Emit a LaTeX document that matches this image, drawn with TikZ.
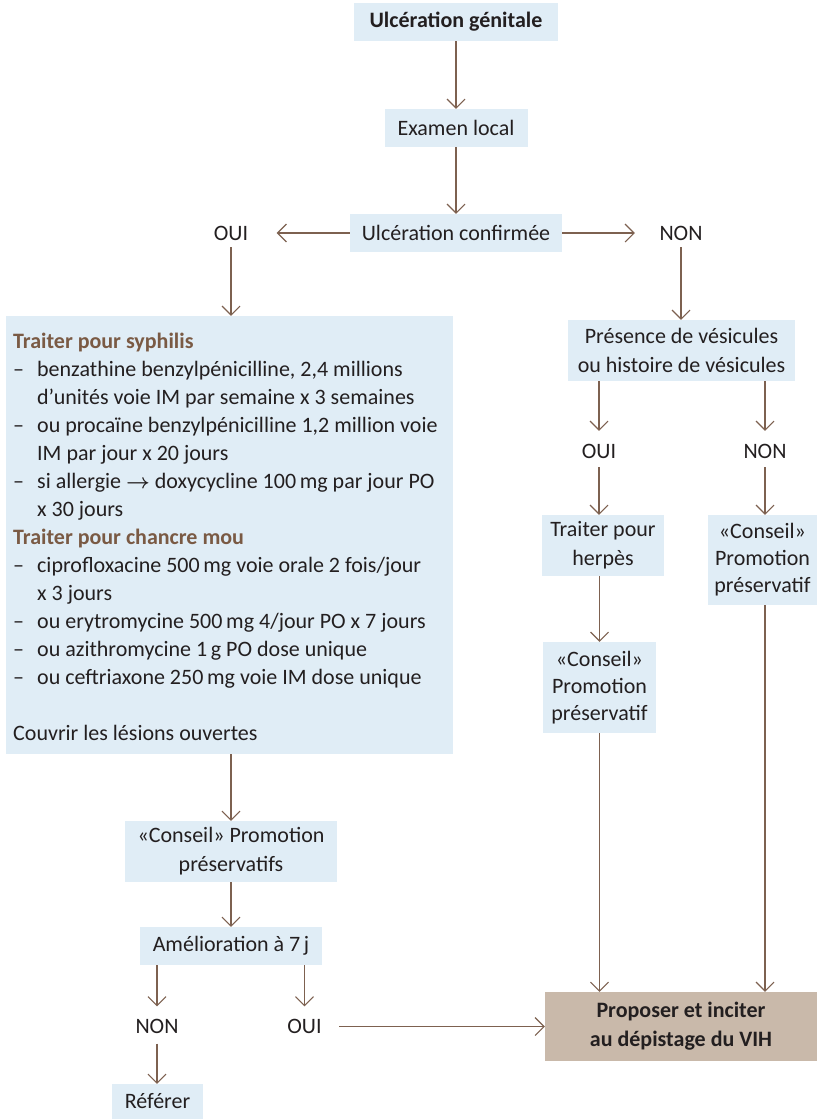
\documentclass[tikz,border=0pt]{standalone}
\usepackage{fontspec}
\usepackage{amsmath}
\setmainfont{Carlito}
\usetikzlibrary{arrows.meta}
\definecolor{boxc}{HTML}{E0EDF6}
\definecolor{linec}{HTML}{7D6150}
\definecolor{titc}{HTML}{7A5A44}
\definecolor{finc}{HTML}{C9B9AA}
\definecolor{txtc}{HTML}{231F20}
\newcommand\itemdash{\makebox[24pt][l]{–}}
\newcommand\itemcont{\hspace*{24pt}}
\begin{document}
\begin{tikzpicture}[x=1pt,y=-1pt,
  box/.style={fill=boxc, inner sep=0pt, align=center, text=txtc, font=\fontsize{22}{29}\selectfont},
  lab/.style={inner sep=0pt, minimum height=16pt, text=txtc, font=\fontsize{22}{26}\selectfont},
  arr/.style={draw=linec, line width=1.1pt, -{Straight Barb[length=9pt,width=18pt]}}]
\useasboundingbox (0,0) rectangle (817,1119);
% main column
\node[box, font=\bfseries\fontsize{22}{29}\selectfont, minimum width=204pt, minimum height=38pt] (g1) at (456,22) {Ulcération génitale};
\node[box, minimum width=143pt, minimum height=38pt] (g2) at (456,128) {Examen local};
\node[box, minimum width=212pt, minimum height=38pt] (g3) at (456,233) {Ulcération confirmée};
\node[lab, minimum width=39pt] (oui1) at (231,233) {OUI};
\node[lab, minimum width=52pt] (non1) at (681,233) {NON};
% left big box
\node[fill=boxc, inner sep=0pt, minimum width=447pt, minimum height=438pt] (big) at (229.5,535) {};
\node[inner sep=0pt, anchor=base west, text=txtc] (bigtext) at (13,348) {\parbox[t]{440pt}{\fontsize{22}{28}\selectfont\raggedright\parindent0pt\leavevmode
{\color{titc}\bfseries Traiter pour syphilis}\\
\itemdash benzathine benzylpénicilline, 2,4 millions\\
\itemcont d’unités voie IM par semaine x 3 semaines\\
\itemdash ou procaïne benzylpénicilline 1,2 million voie\\
\itemcont IM par jour x 20 jours\\
\itemdash si allergie $\boldsymbol{\rightarrow}$ doxycycline 100\,mg par jour PO\\
\itemcont x 30 jours\\
{\color{titc}\bfseries Traiter pour chancre mou}\\
\itemdash ciprofloxacine 500\,mg voie orale 2 fois/jour\\
\itemcont x 3 jours\\
\itemdash ou erytromycine 500\,mg 4/jour PO x 7 jours\\
\itemdash ou azithromycine 1\,g PO dose unique\\
\itemdash ou ceftriaxone 250\,mg voie IM dose unique\\[28pt]
Couvrir les lésions ouvertes}};
\node[box, minimum width=212pt, minimum height=61pt] (c1) at (231,851.5) {«Conseil» Promotion\\préservatifs};
\node[box, minimum width=182pt, minimum height=38pt] (am) at (231,946) {Amélioration à 7\,j};
\node[lab, minimum width=52pt] (non3) at (157,1026.5) {NON};
\node[lab, minimum width=39pt] (oui3) at (304.5,1026.5) {OUI};
\node[box, minimum width=91pt, minimum height=35pt] (ref) at (157.5,1101.5) {Référer};
% right column
\node[box, minimum width=227pt, minimum height=61pt] (ves) at (681.5,350.5) {Présence de vésicules\\ou histoire de vésicules};
\node[lab, minimum width=39pt] (oui2) at (599,451) {OUI};
\node[lab, minimum width=52pt] (non2) at (765,451) {NON};
\node[box, minimum width=122pt, minimum height=61pt] (herp) at (603,545.5) {Traiter pour\\herpès};
\node[box, font=\fontsize{22}{27}\selectfont, minimum width=109pt, minimum height=90pt] (c2) at (762.5,560) {«Conseil»\\Promotion\\préservatif};
\node[box, font=\fontsize{22}{27}\selectfont, minimum width=113pt, minimum height=91pt] (c3) at (599.5,687.5) {«Conseil»\\Promotion\\préservatif};
\node[box, fill=finc, font=\bfseries\fontsize{22}{29}\selectfont, minimum width=272pt, minimum height=69pt] (fin) at (681,1026.5) {Proposer et inciter\\au dépistage du VIH};
% connectors
\draw[arr] (g1) -- (g2);
\draw[arr] (g2) -- (g3);
\draw[arr, shorten >=26pt] (g3.west) -- (oui1.east);
\draw[arr, shorten >=20pt] (g3.east) -- (non1.west);
\draw[arr, shorten <=6pt] (oui1.south) -- (oui1.south |- big.north);
\draw[arr, shorten <=6pt] (non1.south) -- (non1.south |- ves.north);
\draw[arr, shorten >=12pt] (ves.south -| oui2.north) -- (oui2.north);
\draw[arr, shorten >=12pt] (ves.south -| non2.north) -- (non2.north);
\draw[arr, shorten <=8pt] (oui2.south) -- (oui2.south |- herp.north);
\draw[arr, shorten <=8pt] (non2.south) -- (non2.south |- c2.north);
\draw[arr] (herp.south -| c3.north) -- (c3.north);
\draw[arr] (c3.south) -- (c3.south |- fin.north);
\draw[arr] (c2.south -| non2.south) -- (non2.south |- fin.north);
\draw[arr] (big.south -| c1.north) -- (c1.north);
\draw[arr] (c1) -- (am);
\draw[arr, shorten >=12pt] (am.south -| non3.north) -- (non3.north);
\draw[arr, shorten >=12pt] (am.south -| oui3.north) -- (oui3.north);
\draw[arr, shorten <=9pt] (non3.south) -- (non3.south |- ref.north);
\draw[arr, shorten <=15pt] (oui3.east) -- (oui3.east -| fin.west);
\end{tikzpicture}
\end{document}
